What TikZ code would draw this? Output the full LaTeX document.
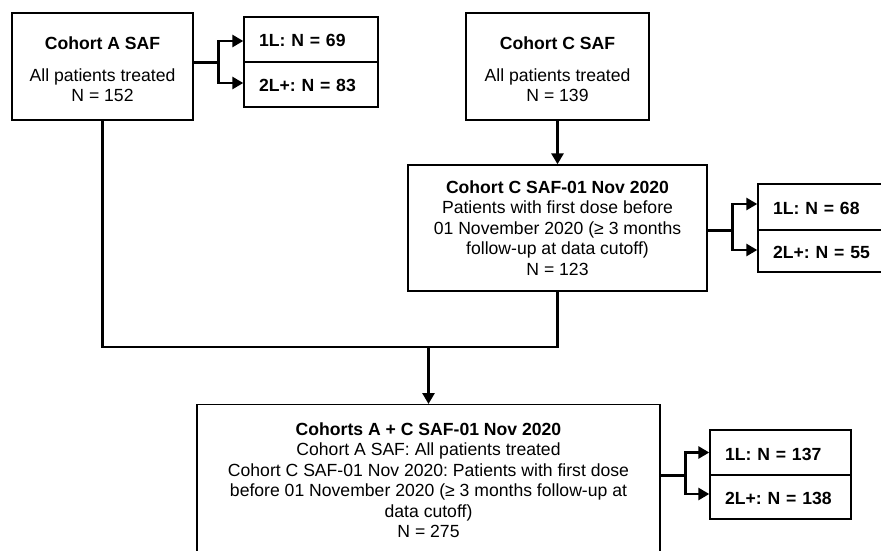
\documentclass[tikz,border=0pt]{standalone}
\usepackage{fontspec}
\setmainfont{Liberation Sans}
\usepackage{tikz}
\usetikzlibrary{arrows.meta, calc}

\begin{document}
\begin{tikzpicture}[x=1pt, y=-1pt,
  cohort/.style={draw=black, line width=1.4pt, fill=white, align=center, inner sep=0pt,
    font=\fontsize{17.6}{20.5}\selectfont\frenchspacing},
  line/.style={draw=black, line width=2.8pt, line join=miter},
  arrow/.style={line, -{Triangle[length=11pt, width=12pt]}},
  lineN/.style={draw=black, line width=1.4pt, fill=white, align=left, inner xsep=15pt, inner ysep=0pt,
    text height=15pt, text depth=0pt, font=\fontsize{17.6}{20.5}\selectfont\bfseries\frenchspacing}]
\useasboundingbox (0,0) rectangle (881,551);
\clip (0,0) rectangle (881,551);

% cohort boxes
\node[cohort, minimum width=181pt, minimum height=107pt] (cohA) at (102.5,66.5)
  {\rule{0pt}{19pt}\textbf{Cohort A SAF}\\[11pt] All patients treated\\ N = 152};
\node[cohort, minimum width=183pt, minimum height=107pt] (cohC) at (557.5,66.5)
  {\rule{0pt}{19pt}\textbf{Cohort C SAF}\\[11pt] All patients treated\\ N = 139};
\node[cohort, minimum width=299pt, minimum height=126pt] (cohCnov) at (557.5,228)
  {\textbf{Cohort C SAF-01 Nov 2020}\\ Patients with first dose before\\
   01 November 2020 (≥ 3 months\\ follow-up at data cutoff)\\ N = 123};
\node[cohort, anchor=north, minimum width=463pt, inner ysep=18pt] (cohAC) at (428.5,404)
  {\textbf{Cohorts A + C SAF-01 Nov 2020}\\ Cohort A SAF: All patients treated\\
   Cohort C SAF-01 Nov 2020: Patients with first dose\\
   before 01 November 2020 (≥ 3 months follow-up at\\ data cutoff)\\ N = 275};

% line of therapy splits
\node[lineN, text width=104pt, minimum height=45pt] (a1L) at (311,39.5) {1L: N = 69};
\node[lineN, text width=104pt, minimum height=45pt] (a2L) at (311,84.5) {2L+: N = 83};
\node[lineN, text width=130pt, minimum height=46pt] (c1L) at (838,207) {1L: N = 68};
\node[lineN, text width=130pt, minimum height=42pt] (c2L) at (838,251) {2L+: N = 55};
\node[lineN, text width=111pt, minimum height=45pt] (ac1L) at (780.5,452.5) {1L: N = 137};
\node[lineN, text width=111pt, minimum height=44pt] (ac2L) at (780.5,497) {2L+: N = 138};

% branch points
\coordinate (jA) at ($(cohA.east |- a1L.south) + (25,0)$);
\coordinate (jC) at ($(cohCnov.east |- c1L.south) + (25,0)$);
\coordinate (jAC) at ($(cohAC.east |- ac1L.south) + (25,0)$);
\coordinate (merge) at (cohAC.north |- 0,347);

\draw[line] (cohA.east |- jA) -- (jA);
\draw[arrow] (jA) |- ($(a1L.west) + (0,1.5)$);
\draw[arrow] (jA) |- ($(a2L.west) + (0,-1.5)$);
\draw[line] (cohCnov.east |- jC) -- (jC);
\draw[arrow] (jC) |- ($(c1L.west) + (0,-3)$);
\draw[arrow] (jC) |- ($(c2L.west) + (0,-1)$);
\draw[line] (cohAC.east |- jAC) -- (jAC);
\draw[arrow] (jAC) |- (ac1L.west);
\draw[arrow] (jAC) |- ($(ac2L.west) + (0,-3)$);

\draw[arrow] (cohC) -- (cohCnov);
\draw[line] (cohA.south) |- (cohCnov.south |- merge) -- (cohCnov.south);
\draw[arrow] (merge) -- (cohAC.north);
\end{tikzpicture}
\end{document}
